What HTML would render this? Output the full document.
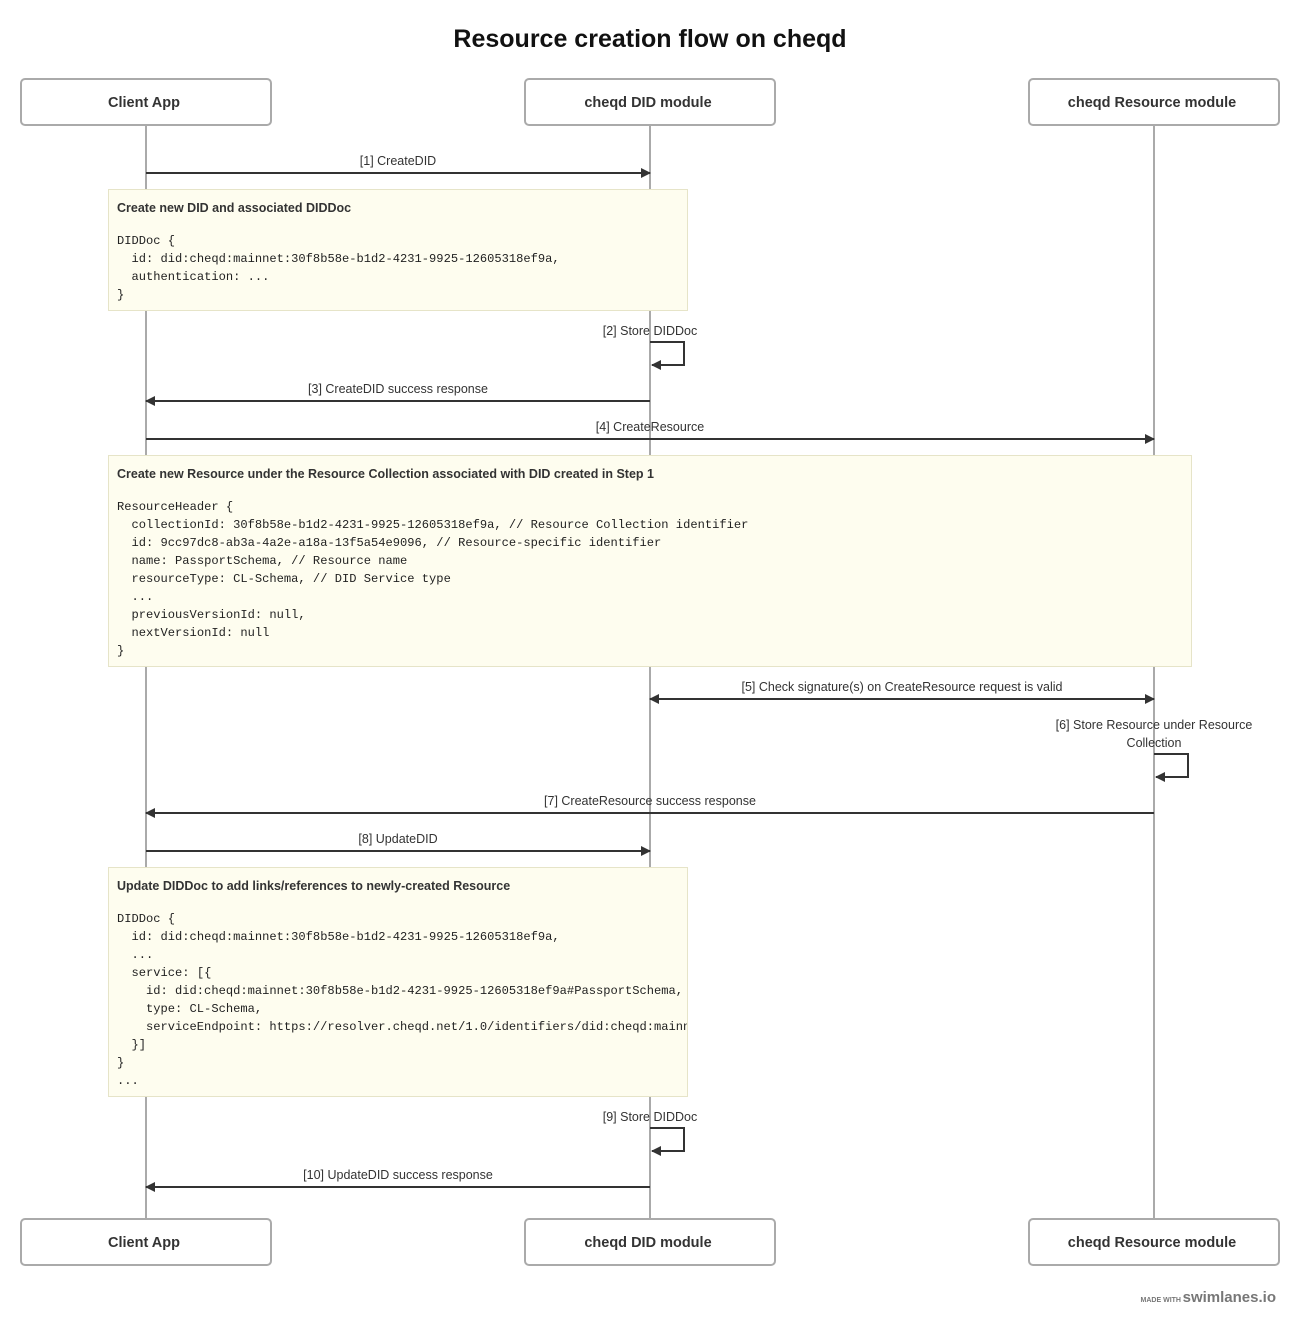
<!DOCTYPE html>
<html><head><meta charset="utf-8"><style>
html,body{margin:0;padding:0;background:#fff;}
svg{display:block}
.t{font-family:"Liberation Sans",sans-serif;font-size:12.5px;fill:#333;}
.h{font-family:"Liberation Sans",sans-serif;font-size:14.5px;font-weight:bold;fill:#333;}
.nb{font-family:"Liberation Sans",sans-serif;font-size:12.5px;font-weight:bold;fill:#333;}
.m{font-family:"Liberation Mono",monospace;font-size:12.1px;fill:#222;}
</style></head><body>
<svg width="1300" height="1326" viewBox="0 0 1300 1326" xmlns="http://www.w3.org/2000/svg">
<defs>
<marker id="a" markerWidth="10" markerHeight="10" refX="9" refY="5" orient="auto" markerUnits="userSpaceOnUse"><path d="M0,0 L10,5 L0,10 z" fill="#333"/></marker>
<marker id="b" markerWidth="10" markerHeight="10" refX="1" refY="5" orient="auto" markerUnits="userSpaceOnUse"><path d="M10,0 L0,5 L10,10 z" fill="#333"/></marker>
<clipPath id="c3"><rect x="108" y="867" width="579" height="229"/></clipPath>
</defs>
<text x="650" y="47" text-anchor="middle" style="font-family:'Liberation Sans',sans-serif;font-size:25px;font-weight:bold;fill:#111">Resource creation flow on cheqd</text>
<g stroke="#aaa" stroke-width="2">
<line x1="146" y1="125" x2="146" y2="1219"/><line x1="650" y1="125" x2="650" y2="1219"/><line x1="1154" y1="125" x2="1154" y2="1219"/>
</g>
<g fill="#fff" stroke="#aaa" stroke-width="2">
<rect x="21" y="79" width="250" height="46" rx="4"/><rect x="525" y="79" width="250" height="46" rx="4"/><rect x="1029" y="79" width="250" height="46" rx="4"/>
<rect x="21" y="1219" width="250" height="46" rx="4"/><rect x="525" y="1219" width="250" height="46" rx="4"/><rect x="1029" y="1219" width="250" height="46" rx="4"/>
</g>
<g text-anchor="middle">
<text x="144" y="107" class="h">Client App</text><text x="648" y="107" class="h">cheqd DID module</text><text x="1152" y="107" class="h">cheqd Resource module</text>
<text x="144" y="1247" class="h">Client App</text><text x="648" y="1247" class="h">cheqd DID module</text><text x="1152" y="1247" class="h">cheqd Resource module</text>
</g>
<g stroke="#333" stroke-width="2" fill="none">
<line x1="146" y1="173" x2="650" y2="173" marker-end="url(#a)"/>
<path d="M650,342 H684 V365 H652" marker-end="url(#a)"/>
<line x1="650" y1="401" x2="146" y2="401" marker-end="url(#a)"/>
<line x1="146" y1="439" x2="1154" y2="439" marker-end="url(#a)"/>
<line x1="650" y1="699" x2="1154" y2="699" marker-end="url(#a)" marker-start="url(#b)"/>
<path d="M1154,754 H1188 V777 H1156" marker-end="url(#a)"/>
<line x1="1154" y1="813" x2="146" y2="813" marker-end="url(#a)"/>
<line x1="146" y1="851" x2="650" y2="851" marker-end="url(#a)"/>
<path d="M650,1128 H684 V1151 H652" marker-end="url(#a)"/>
<line x1="650" y1="1187" x2="146" y2="1187" marker-end="url(#a)"/>
</g>
<g text-anchor="middle">
<text x="398" y="165" class="t">[1] CreateDID</text>
<text x="650" y="335" class="t">[2] Store DIDDoc</text>
<text x="398" y="393" class="t">[3] CreateDID success response</text>
<text x="650" y="431" class="t">[4] CreateResource</text>
<text x="902" y="691" class="t">[5] Check signature(s) on CreateResource request is valid</text>
<text x="1154" y="729" class="t">[6] Store Resource under Resource</text>
<text x="1154" y="747" class="t">Collection</text>
<text x="650" y="805" class="t">[7] CreateResource success response</text>
<text x="398" y="843" class="t">[8] UpdateDID</text>
<text x="650" y="1121" class="t">[9] Store DIDDoc</text>
<text x="398" y="1179" class="t">[10] UpdateDID success response</text>
</g>
<g fill="#fefdef" stroke="#e6e4c8" stroke-width="1">
<rect x="108.5" y="189.5" width="579" height="121"/>
<rect x="108.5" y="455.5" width="1083" height="211"/>
<rect x="108.5" y="867.5" width="579" height="229"/>
</g>
<text x="117" y="212" class="nb">Create new DID and associated DIDDoc</text>
<g class="m">
<text x="117" y="244">DIDDoc {</text>
<text x="131.5" y="262">id: did:cheqd:mainnet:30f8b58e-b1d2-4231-9925-12605318ef9a,</text>
<text x="131.5" y="280">authentication: ...</text>
<text x="117" y="298">}</text>
</g>
<text x="117" y="478" class="nb">Create new Resource under the Resource Collection associated with DID created in Step 1</text>
<g class="m">
<text x="117" y="510">ResourceHeader {</text>
<text x="131.5" y="528">collectionId: 30f8b58e-b1d2-4231-9925-12605318ef9a, // Resource Collection identifier</text>
<text x="131.5" y="546">id: 9cc97dc8-ab3a-4a2e-a18a-13f5a54e9096, // Resource-specific identifier</text>
<text x="131.5" y="564">name: PassportSchema, // Resource name</text>
<text x="131.5" y="582">resourceType: CL-Schema, // DID Service type</text>
<text x="131.5" y="600">...</text>
<text x="131.5" y="618">previousVersionId: null,</text>
<text x="131.5" y="636">nextVersionId: null</text>
<text x="117" y="654">}</text>
</g>
<text x="117" y="890" class="nb">Update DIDDoc to add links/references to newly-created Resource</text>
<g class="m" clip-path="url(#c3)">
<text x="117" y="922">DIDDoc {</text>
<text x="131.5" y="940">id: did:cheqd:mainnet:30f8b58e-b1d2-4231-9925-12605318ef9a,</text>
<text x="131.5" y="958">...</text>
<text x="131.5" y="976">service: [{</text>
<text x="146" y="994">id: did:cheqd:mainnet:30f8b58e-b1d2-4231-9925-12605318ef9a#PassportSchema,</text>
<text x="146" y="1012">type: CL-Schema,</text>
<text x="146" y="1030">serviceEndpoint: https://resolver.cheqd.net/1.0/identifiers/did:cheqd:mainnet</text>
<text x="131.5" y="1048">}]</text>
<text x="117" y="1066">}</text>
<text x="117" y="1084">...</text>
</g>
<text x="1181" y="1302" text-anchor="end" style="font-family:'Liberation Sans',sans-serif;font-size:7px;font-weight:bold;fill:#777">MADE WITH</text>
<text x="1276" y="1302" text-anchor="end" style="font-family:'Liberation Sans',sans-serif;font-size:15px;font-weight:bold;fill:#777">swimlanes.io</text>
</svg>
</body></html>
